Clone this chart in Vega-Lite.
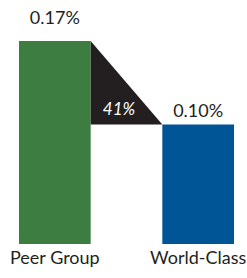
{
  "$schema": "https://vega.github.io/schema/vega-lite/v6.json",
  "autosize": "none",
  "width": 215,
  "height": 244,
  "padding": {"left": 19, "right": 13, "top": 0, "bottom": 34},
  "background": "white",
  "config": {"view": {"stroke": null}, "font": "Lato"},
  "datasets": {
    "bars": [
      {"group": "Peer Group", "value": 0.17, "label": "0.17%"},
      {"group": "World-Class", "value": 0.10, "label": "0.10%"}
    ],
    "drop": [
      {"group": " ", "top": 0.17, "base": 0.10},
      {"group": "World-Class", "top": 0.10, "base": 0.10}
    ],
    "change": [
      {"group": " ", "value": 0.10, "label": "41%"}
    ]
  },
  "encoding": {
    "x": {
      "field": "group",
      "type": "nominal",
      "sort": ["Peer Group", " ", "World-Class"],
      "scale": {"type": "band", "domain": ["Peer Group", " ", "World-Class"], "paddingInner": 0, "paddingOuter": 0},
      "axis": {
        "title": null,
        "domain": false,
        "ticks": false,
        "tickSize": 0,
        "labelAngle": 0,
        "labelFont": "Lato",
        "labelFontSize": 18,
        "labelColor": "#231f20",
        "labelPadding": 19,
        "labelBaseline": "alphabetic"
      }
    }
  },
  "layer": [
    {
      "data": {"name": "bars"},
      "mark": {"type": "bar"},
      "encoding": {
        "y": {"field": "value", "type": "quantitative", "scale": {"domain": [0, 0.2043], "nice": false}, "axis": null},
        "color": {"field": "group", "type": "nominal", "scale": {"domain": ["Peer Group", "World-Class"], "range": ["#3e7d42", "#005596"]}, "legend": null}
      }
    },
    {
      "data": {"name": "drop"},
      "mark": {"type": "area", "color": "#231f20", "opacity": 1},
      "encoding": {
        "x": {"field": "group", "type": "nominal", "bandPosition": 0},
        "y": {"field": "top", "type": "quantitative"},
        "y2": {"field": "base"}
      }
    },
    {
      "data": {"name": "bars"},
      "transform": [{"filter": "datum.group === 'Peer Group'"}],
      "mark": {"type": "text", "fontSize": 18, "color": "#231f20", "baseline": "alphabetic", "dy": -17},
      "encoding": {
        "y": {"field": "value", "type": "quantitative"},
        "text": {"field": "label"}
      }
    },
    {
      "data": {"name": "bars"},
      "transform": [{"filter": "datum.group === 'World-Class'"}],
      "mark": {"type": "text", "fontSize": 18, "color": "#231f20", "baseline": "alphabetic", "dy": -7.6},
      "encoding": {
        "y": {"field": "value", "type": "quantitative"},
        "text": {"field": "label"}
      }
    },
    {
      "data": {"name": "change"},
      "mark": {"type": "text", "fontSize": 17, "fontStyle": "italic", "color": "white", "baseline": "alphabetic", "dy": -9.6, "dx": -7.5},
      "encoding": {
        "y": {"field": "value", "type": "quantitative"},
        "text": {"field": "label"}
      }
    }
  ]
}
